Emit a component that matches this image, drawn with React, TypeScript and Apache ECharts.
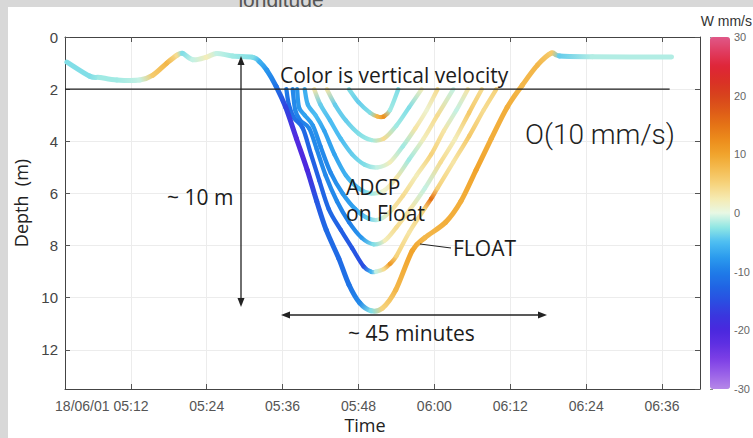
import React, { useEffect, useRef } from 'react';
import * as echarts from 'echarts';

// ---- axes ----
const X_MIN = 1.6; // minutes after 05:00 (05:01:36)
const X_MAX = 102; // 06:42
const X_TICKS = [12, 24, 36, 48, 60, 72, 84, 96];
const X_TICK_LABELS = ['05:12', '05:24', '05:36', '05:48', '06:00', '06:12', '06:24', '06:36'];
const DATE_PREFIX = '18/06/01';
const DEPTH_MIN = 0;
const DEPTH_MAX = 13.5;
const DEPTH_STEP = 2;
const W_MIN = -30;
const W_MAX = 30;
const W_STEP = 10;

// colormap for vertical velocity (mm/s), evenly spaced from -30 to 30
const W_COLORS = [
  '#b587e8', '#9a62e8', '#7e40e6', '#6030e2', '#4a28de', '#3a36de', '#2a4ee2', '#2065e4',
  '#1f7de8', '#2c9cee', '#4cbdf2', '#8ee6e4', '#e8f8e4', '#f6eab0', '#f6d37c', '#f4bc52',
  '#f1a42c', '#ec8c1c', '#e57316', '#de5a18', '#d8431c', '#da3026', '#df2538', '#e03c60', '#e05888',
];

// ---- FLOAT trajectory: time (min after 05:00), depth (m), w (mm/s) ----
const FLOAT_T = [1.9, 5.5, 7.1, 9.8, 13.4, 15.5, 17.7, 19.3, 20.2, 21.8, 24.0, 25.6, 28.1, 31.3, 32.4, 33.5, 35.0, 36.5, 38.2, 39.9, 41.4, 42.9, 44.9, 46.5, 48.2, 50.0, 51.8, 53.9, 56.5, 58.5, 61.8, 64.2, 66.6, 69.0, 71.5, 73.9, 76.3, 78.5, 79.8, 85.0, 97.5];
const FLOAT_D = [0.96, 1.5, 1.55, 1.65, 1.65, 1.46, 1.0, 0.7, 0.63, 0.87, 0.77, 0.63, 0.73, 0.78, 0.96, 1.27, 1.9, 2.7, 3.9, 5.1, 6.3, 7.4, 8.5, 9.5, 10.2, 10.5, 10.4, 9.7, 8.2, 7.7, 7.1, 6.3, 5.1, 3.9, 2.7, 1.85, 1.08, 0.62, 0.73, 0.76, 0.77];
const FLOAT_W = [-3, -3, -2, -2, -1, 6, 8, 4, -3, -1, 2, -1, -2, -3, -6, -8, -11, -16, -21, -20, -14, -12, -12, -11, -9, -3, 5, 8, 10, 8, 9, 9, 10, 9, 9, 8, 8, 6, -4, -1.5, -1.5];

// ---- ADCP bins on the float ----
const BIN1_T = [36.6, 37.0, 37.8, 39.2, 40.5, 41.8, 43.3, 45.2, 47.0, 48.8, 50.0, 50.8, 52.0, 53.0, 54.0, 56.0, 58.4, 59.5, 60.5, 63.0, 65.5, 67.8, 69.8];
const BIN1_D = [2.0, 2.6, 3.1, 3.5, 4.5, 5.5, 6.6, 7.4, 8.1, 8.8, 9.0, 9.0, 8.9, 8.7, 8.4, 7.5, 6.6, 6.2, 5.8, 4.8, 3.8, 2.8, 2.0];
const BIN1_W = [-10, -12, -11, -12, -13, -13, -12, -13, -14, -15, -6, -1, 4, 11, 5, 3, 5, 15, 5, 3, 6, 4, 5];

const BIN2_T = [37.6, 38.0, 38.8, 40.2, 41.4, 42.8, 44.6, 46.5, 48.5, 50.4, 52.2, 54.0, 56.2, 58.5, 61.0, 63.3, 65.5, 67.5];
const BIN2_D = [2.0, 2.8, 3.2, 3.5, 4.3, 5.3, 6.3, 7.1, 7.7, 7.95, 7.8, 7.3, 6.6, 5.8, 4.8, 3.9, 2.9, 2.0];
const BIN2_W = [-9, -9, -10, -9, -9, -9, -9, -10, -8, -3, 2, 4, 3, -1, 4, 2, 6, 4];

const BIN3_T = [38.3, 38.6, 39.5, 40.8, 42.0, 43.6, 45.5, 47.5, 49.5, 51.3, 53.0, 55.0, 57.2, 59.5, 61.5, 63.5, 65.3];
const BIN3_D = [2.0, 2.7, 3.0, 3.4, 4.2, 5.2, 6.0, 6.6, 6.95, 7.0, 6.7, 6.1, 5.3, 4.5, 3.6, 2.8, 2.0];
const BIN3_W = [-8, -8, -7, -8, -9, -9, -8, -7, -4, -1, 3, 4, 2, 5, 3, -1, 3];

const BIN4_T = [39.5, 40.0, 41.2, 42.6, 44.2, 46.0, 48.0, 50.0, 52.0, 54.0, 56.0, 58.3, 60.5, 63.0];
const BIN4_D = [2.0, 2.6, 3.0, 3.6, 4.5, 5.3, 5.8, 6.0, 5.9, 5.4, 4.7, 3.9, 3.0, 2.0];
const BIN4_W = [-6, -6, -5, -7, -7, -6, -5, -2, 1, 3, -2, 2, 4, -1];

const BIN5_T = [41.0, 42.0, 43.5, 45.2, 47.0, 49.0, 51.0, 53.0, 55.0, 57.0, 58.8, 60.5];
const BIN5_D = [2.0, 2.6, 3.2, 3.9, 4.5, 4.9, 5.0, 4.8, 4.2, 3.5, 2.8, 2.0];
const BIN5_W = [3, -4, -5, -5, -4, -3, -1, 2, -2, 3, 1, 4];

const BIN6_T = [43.0, 44.3, 46.0, 48.0, 50.0, 52.0, 54.0, 56.0, 58.0];
const BIN6_D = [2.0, 2.6, 3.2, 3.7, 3.95, 3.9, 3.4, 2.7, 2.0];
const BIN6_W = [3, -4, -4, -3, -2, 4, -2, -3, 2];

const BIN7_T = [46.5, 48.0, 49.8, 51.0, 52.0, 53.0, 54.3];
const BIN7_D = [2.0, 2.5, 2.9, 3.05, 3.05, 2.8, 2.0];
const BIN7_W = [-3, -4, -3, 8, 12, -2, -3];

// reference line at 2 m
const REF_LINE_T = [X_MIN, 97.2];
const REF_LINE_DEPTH = 2;

const CURVES = [
  { name: 'ADCP bin 7', t: BIN7_T, d: BIN7_D, w: BIN7_W, width: 4.3 },
  { name: 'ADCP bin 6', t: BIN6_T, d: BIN6_D, w: BIN6_W, width: 4.3 },
  { name: 'ADCP bin 5', t: BIN5_T, d: BIN5_D, w: BIN5_W, width: 4.3 },
  { name: 'ADCP bin 4', t: BIN4_T, d: BIN4_D, w: BIN4_W, width: 4.3 },
  { name: 'ADCP bin 3', t: BIN3_T, d: BIN3_D, w: BIN3_W, width: 4.3 },
  { name: 'ADCP bin 2', t: BIN2_T, d: BIN2_D, w: BIN2_W, width: 4.3 },
  { name: 'ADCP bin 1', t: BIN1_T, d: BIN1_D, w: BIN1_W, width: 4.3 },
  { name: 'FLOAT', t: FLOAT_T, d: FLOAT_D, w: FLOAT_W, width: 5 },
];

const AX_FONT = "'Liberation Sans', Arial, sans-serif";
const ANN_FONT = "'Open Sans', sans-serif";

function makeRenderItem(lw: number) {
  return (params: any, api: any) => {
    const i = params.dataIndexInside;
    const n = params.dataInsideLength;
    if (i >= n - 1) return { type: 'group', children: [] };
    const get = (k: number) => {
      const kk = Math.max(0, Math.min(n - 1, k));
      return api.coord([api.value(0, kk), api.value(1, kk)]);
    };
    const p0 = get(i - 1);
    const p1 = get(i);
    const p2 = get(i + 1);
    const p3 = get(i + 2);
    const c1 = [p1[0] + (p2[0] - p0[0]) / 6, p1[1] + (p2[1] - p0[1]) / 6];
    const c2 = [p2[0] - (p3[0] - p1[0]) / 6, p2[1] - (p3[1] - p1[1]) / 6];
    const col1 = api.visual('color', i);
    const col2 = api.visual('color', i + 1);
    const stroke =
      Math.abs(p1[0] - p2[0]) + Math.abs(p1[1] - p2[1]) < 0.5
        ? col1
        : {
            type: 'linear',
            x: p1[0],
            y: p1[1],
            x2: p2[0],
            y2: p2[1],
            global: true,
            colorStops: [
              { offset: 0, color: col1 },
              { offset: 1, color: col2 },
            ],
          };
    return {
      type: 'bezierCurve',
      shape: { x1: p1[0], y1: p1[1], x2: p2[0], y2: p2[1], cpx1: c1[0], cpy1: c1[1], cpx2: c2[0], cpy2: c2[1] },
      style: { fill: 'none', stroke, lineWidth: lw, lineCap: 'round' },
    };
  };
}

function buildOption() {
  const curveSeries = CURVES.map((c) => ({
    type: 'custom',
    name: c.name,
    xAxisIndex: 0,
    yAxisIndex: 0,
    silent: true,
    z: 3,
    encode: { x: 0, y: 1 },
    data: c.t.map((t, k) => [t, c.d[k], c.w[k]]),
    renderItem: makeRenderItem(c.width),
  }));

  const refLine = {
    type: 'line',
    name: '2 m',
    xAxisIndex: 0,
    yAxisIndex: 0,
    silent: true,
    symbol: 'none',
    z: 6,
    lineStyle: { color: '#1e1e1e', width: 1.2 },
    data: REF_LINE_T.map((t) => [t, REF_LINE_DEPTH]),
  };

  const annText = (text: string, x: number, y: number, size: number, extra: any = {}) => ({
    type: 'text',
    x,
    y,
    z: 20,
    silent: true,
    style: {
      text,
      fontSize: size,
      fontFamily: ANN_FONT,
      fill: '#1c1c1c',
      textAlign: 'left',
      textVerticalAlign: 'middle',
      ...extra,
    },
  });

  const ink = { stroke: '#222', lineWidth: 1.3 };

  return {
    animation: false,
    backgroundColor: '#d8d8d8',
    grid: [
      { left: 65, top: 37, width: 635, height: 352 },
      { left: 710, top: 37, width: 20, height: 352 },
    ],
    xAxis: [
      {
        type: 'value',
        gridIndex: 0,
        min: X_MIN,
        max: X_MAX,
        position: 'bottom',
        axisLine: { show: true, onZero: false, lineStyle: { color: '#444', width: 1 } },
        axisTick: { show: true, inside: true, length: 5, customValues: X_TICKS, lineStyle: { color: '#555' } },
        axisLabel: {
          show: true,
          customValues: X_TICKS,
          margin: 10,
          fontSize: 14,
          color: '#555',
          fontFamily: AX_FONT,
          formatter: (v: number) => {
            const i = X_TICKS.indexOf(v);
            if (i === 0) return `{pre|${DATE_PREFIX} }{t|${X_TICK_LABELS[0]}}{pad|}`;
            return i >= 0 ? X_TICK_LABELS[i] : '';
          },
          rich: {
            pre: { fontSize: 14, color: '#555', fontFamily: AX_FONT },
            t: { fontSize: 14, color: '#555', fontFamily: AX_FONT },
            pad: { width: 58 },
          },
        },
        splitLine: { show: true, lineStyle: { color: '#ececec', width: 1 } },
      },
      {
        type: 'value',
        gridIndex: 0,
        min: X_MIN,
        max: X_MAX,
        position: 'top',
        axisLine: { show: true, onZero: false, lineStyle: { color: '#444', width: 1 } },
        axisTick: { show: true, inside: true, length: 5, customValues: X_TICKS, lineStyle: { color: '#555' } },
        axisLabel: { show: false },
        splitLine: { show: false },
      },
      { type: 'value', gridIndex: 1, min: 0, max: 1, show: false },
    ],
    yAxis: [
      {
        type: 'value',
        gridIndex: 0,
        inverse: true,
        min: DEPTH_MIN,
        max: DEPTH_MAX,
        interval: DEPTH_STEP,
        position: 'left',
        axisLine: { show: true, onZero: false, lineStyle: { color: '#444', width: 1 } },
        axisTick: { show: true, inside: true, length: 5, lineStyle: { color: '#555' } },
        axisLabel: { show: true, showMaxLabel: false, margin: 7, fontSize: 15, color: '#444', fontFamily: AX_FONT },
        splitLine: { show: true, lineStyle: { color: '#ececec', width: 1 } },
      },
      {
        type: 'value',
        gridIndex: 0,
        inverse: true,
        min: DEPTH_MIN,
        max: DEPTH_MAX,
        interval: DEPTH_STEP,
        position: 'right',
        axisLine: { show: true, onZero: false, lineStyle: { color: '#444', width: 1 } },
        axisTick: { show: true, inside: true, length: 5, lineStyle: { color: '#555' } },
        axisLabel: { show: false },
        splitLine: { show: false },
      },
      {
        type: 'value',
        gridIndex: 1,
        min: W_MIN,
        max: W_MAX,
        interval: W_STEP,
        position: 'right',
        axisLine: { show: false },
        axisTick: { show: true, length: 3, lineStyle: { color: '#888' } },
        axisLabel: { show: true, margin: 4, fontSize: 11, color: '#666', fontFamily: AX_FONT },
        splitLine: { show: false },
      },
    ],
    visualMap: {
      type: 'continuous',
      min: W_MIN,
      max: W_MAX,
      dimension: 2,
      seriesIndex: CURVES.map((_, i) => i),
      inRange: { color: W_COLORS },
      calculable: false,
      hoverLink: false,
      orient: 'vertical',
      left: 710,
      top: 37,
      padding: 0,
      itemWidth: 20,
      itemHeight: 352,
    },
    series: [...curveSeries, refLine],
    graphic: [
      { type: 'text', z: -20, silent: true, x: 281, y: 10, style: { text: 'longitude', fontSize: 21, fontFamily: AX_FONT, fill: '#555', textAlign: 'center', textVerticalAlign: 'bottom' } },
      { type: 'rect', z: -10, silent: true, shape: { x: 8, y: 7, width: 745, height: 431 }, style: { fill: '#ffffff' } },
      // axis titles
      { type: 'text', z: 20, silent: true, x: 21, y: 203, rotation: Math.PI / 2, style: { text: 'Depth  (m)', fontSize: 18, fontFamily: ANN_FONT, fill: '#222', textAlign: 'center', textVerticalAlign: 'middle' } },
      { type: 'text', z: 20, silent: true, x: 365, y: 425, style: { text: 'Time', fontSize: 18, fontFamily: ANN_FONT, fill: '#222', textAlign: 'center', textVerticalAlign: 'middle' } },
      { type: 'text', z: 20, silent: true, x: 752, y: 21, style: { text: 'W mm/s', fontSize: 14, fontFamily: AX_FONT, fill: '#333', textAlign: 'right', textVerticalAlign: 'middle' } },
      // annotations
      annText('Color is vertical velocity', 280, 75, 21),
      { type: 'text', z: 20, silent: true, x: 525, y: 134, style: { text: 'O(10 mm/s)', fontSize: 28, fontWeight: 300, fontFamily: "Roboto, 'Liberation Sans', sans-serif", fill: '#222', textAlign: 'left', textVerticalAlign: 'middle' } },
      annText('~ 10 m', 167, 197, 21),
      annText('ADCP', 346, 187, 21),
      annText('on Float', 346, 213, 21),
      annText('FLOAT', 453, 248, 21),
      annText('~ 45 minutes', 348, 333, 21),
      // FLOAT pointer
      { type: 'line', z: 20, silent: true, shape: { x1: 420, y1: 244, x2: 451, y2: 248 }, style: { stroke: '#222', lineWidth: 1 } },
      // vertical double arrow
      { type: 'line', z: 20, silent: true, shape: { x1: 241, y1: 62, x2: 241, y2: 301 }, style: ink },
      { type: 'polygon', z: 20, silent: true, shape: { points: [[241, 56], [237.5, 65], [244.5, 65]] }, style: { fill: '#222' } },
      { type: 'polygon', z: 20, silent: true, shape: { points: [[241, 307], [237.5, 298], [244.5, 298]] }, style: { fill: '#222' } },
      // horizontal double arrow
      { type: 'line', z: 20, silent: true, shape: { x1: 287, y1: 315, x2: 541, y2: 315 }, style: ink },
      { type: 'polygon', z: 20, silent: true, shape: { points: [[281, 315], [290, 311.5], [290, 318.5]] }, style: { fill: '#222' } },
      { type: 'polygon', z: 20, silent: true, shape: { points: [[547, 315], [538, 311.5], [538, 318.5]] }, style: { fill: '#222' } },
    ],
  };
}

export default function App() {
  const ref = useRef<HTMLDivElement>(null);
  useEffect(() => {
    if (!ref.current) return;
    const chart = echarts.init(ref.current, null, { renderer: 'svg' });
    chart.setOption(buildOption() as any);
    return () => chart.dispose();
  }, []);
  return <div ref={ref} style={{ position: 'absolute', left: 0, top: 0, width: 753, height: 438 }} />;
}
